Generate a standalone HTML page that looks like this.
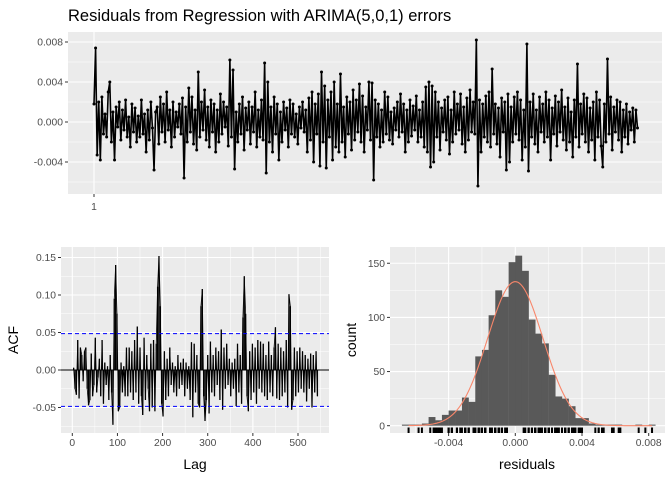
<!DOCTYPE html>
<html><head><meta charset="utf-8"><style>
body{margin:0;background:#fff;}
svg{display:block;font-family:"Liberation Sans",sans-serif;}
</style></head><body>
<svg id="c" width="672" height="480"></svg>
<script>
// residual series in units of 0.0001 (approx., reduced sampling)
const resid=[18,74,-33,20,-38,25,-12,8,-15,30,40,-20,10,-38,15,-5,20,-18,12,-8,22,-15,5,-25,18,-10,14,-20,6,-15,22,-12,8,-30,12,-18,20,-6,-48,10,15,-22,25,-10,18,-20,30,-8,12,-25,20,-15,10,-5,18,-12,24,-56,15,-20,34,-10,25,-22,12,-28,50,-15,20,-8,32,-18,15,-25,22,-10,18,-30,12,-20,28,-12,20,-5,15,-24,62,-15,52,-47,10,-20,18,-12,25,-28,14,-8,20,-22,15,-10,30,-25,12,-15,22,-18,59,-51,40,-20,15,-30,25,-12,18,-38,10,-20,20,-8,14,-25,22,-12,18,-15,8,-22,15,-6,20,-10,12,-30,24,-18,30,-40,18,-12,28,-44,50,-20,36,-46,22,-15,30,-38,40,-25,18,-30,48,-20,15,-35,25,-12,20,-28,32,-18,22,-10,38,-20,26,-30,15,-8,40,-18,39,-58,22,-15,18,-25,12,-20,30,-12,25,-18,10,-22,14,-8,20,-15,28,-10,18,-30,12,-20,22,-14,16,-8,26,-20,12,-15,20,-25,35,-30,40,-45,36,-40,30,-15,20,-28,14,-10,22,-18,25,-32,12,-20,30,-12,18,-8,28,-22,15,-30,24,-18,32,-10,20,-12,82,-64,22,-30,18,-15,26,-20,30,-25,53,-12,18,-22,14,-35,24,-10,20,-48,28,-40,15,-20,25,-12,30,-18,22,-38,12,-25,78,-49,20,-15,28,-22,12,-30,25,-10,18,-20,30,-15,22,-38,14,-12,26,-24,20,-10,32,-18,15,-28,24,-20,10,-35,22,-15,58,-25,18,-12,28,-20,24,-30,14,-18,20,-38,30,-15,22,-24,-45,18,-20,63,-12,25,-28,15,-10,22,-18,20,-30,12,-15,18,-22,10,-8,14,-20,12,-6];
// ACF values (x0.001) at lags 3,6,...,543
const acfVals=[3,-25,-33,40,-38,30,20,-15,25,30,-25,-47,-40,22,-35,-20,43,-30,-10,15,-35,40,-45,10,-20,5,-40,20,-30,-73,95,140,75,-55,-50,10,-30,5,-35,30,-35,30,-30,25,-40,40,-30,58,-45,30,-35,-60,43,-40,20,-25,-55,35,-50,40,-55,35,111,152,85,-45,-62,25,-40,15,-35,30,-20,10,-30,5,-35,20,-25,10,-20,15,-35,10,-25,5,-40,37,-63,35,-30,20,-45,-50,85,108,-35,-68,-40,20,-58,38,-30,20,-35,30,-20,25,-40,54,-53,30,-25,35,-20,15,-35,10,-25,15,-48,35,-30,20,-45,70,125,75,-35,-55,25,-40,35,-30,30,-45,40,-25,38,-30,35,-35,20,-40,38,-30,20,-35,30,57,-38,35,-40,30,-35,25,-30,40,-50,101,85,-53,-40,30,-35,25,-30,30,-25,25,-30,20,-42,15,-25,22,-50,20,-30,25,-35];
const acfStep=3, ciLimit=0.0485;
// histogram: bin starts (x0.0001) and counts
const binStart=[-68,-64,-60,-56,-52,-48,-44,-40,-36,-32,-28,-24,-20,-16,-12,-8,-4,0,4,8,12,16,20,24,28,32,36,40,44,48,52,56,60,64,68,72,76,80];
const binCount=[1,1,1,2,8,5,10,14,14,26,22,64,70,102,125,119,151,157,143,98,85,76,47,27,25,18,7,7,2,1,1,1,1,0,0,1,0,1];
const binWidth=4, fitMean=0, fitSd=0.00166, fitPeak=133;
const topTicks=[0.008,0.004,0,-0.004], acfTicks=[0.15,0.10,0.05,0.00,-0.05], lagTicks=[0,100,200,300,400,500];
const histYTicks=[0,50,100,150], histXTicks=[-0.004,0,0.004,0.008];

const S=document.getElementById('c'),NS='http://www.w3.org/2000/svg';
function el(t,a,p){const e=document.createElementNS(NS,t);for(const k in a)e.setAttribute(k,a[k]);(p||S).appendChild(e);return e;}
function txt(s,a,p){const e=el('text',a,p);e.textContent=s;return e;}
const G='#ebebeb',TC='#4d4d4d',FS='10.3',TS='14';

// title
const ti=txt('Residuals from Regression with ARIMA(5,0,1) errors',{x:68,y:21,'font-size':'16.5',fill:'#000'});


// ---- top panel
const tp=el('g',{});
const T={l:68,r:662,t:32,b:194};
const ty=v=>122-v*10000;
el('rect',{x:T.l,y:T.t,width:T.r-T.l,height:T.b-T.t,fill:G},tp);
[0.006,0.002,-0.002,-0.006].forEach(v=>el('line',{x1:T.l,x2:T.r,y1:ty(v),y2:ty(v),stroke:'#fff','stroke-width':0.5},tp));
topTicks.forEach(v=>{el('line',{x1:T.l,x2:T.r,y1:ty(v),y2:ty(v),stroke:'#fff','stroke-width':1.1},tp);
 el('line',{x1:T.l-3,x2:T.l,y1:ty(v),y2:ty(v),stroke:'#333'},tp);
 const t=txt(v===0?'0.000':v.toFixed(3),{x:T.l-5,y:ty(v)+3.6,'font-size':FS,fill:TC,'text-anchor':'end'},tp);
 });
el('line',{x1:94,x2:94,y1:T.t,y2:T.b,stroke:'#fff','stroke-width':1.1},tp);
el('line',{x1:94,x2:94,y1:T.b,y2:T.b+3,stroke:'#333'},tp);
const x1l=txt('1',{x:94,y:210,'font-size':FS,fill:TC,'text-anchor':'middle'},tp);

const tx=i=>94+i*(637.5-94)/(resid.length-1);
let d='';resid.forEach((v,i)=>{d+=(i?'L':'M')+tx(i).toFixed(2)+','+ty(v/10000).toFixed(2);});
const line=el('path',{d:d,fill:'none',stroke:'#000','stroke-width':1.6},tp);

resid.forEach((v,i)=>{const c=el('circle',{cx:tx(i),cy:ty(v/10000),r:1.5,fill:'#000'},tp);
 });

// ---- ACF panel
const ap=el('g',{});
const A={l:61,r:329,t:247,b:433};
const ax=l=>72.3+l*0.4514, ay=v=>370-v*750;
el('rect',{x:A.l,y:A.t,width:A.r-A.l,height:A.b-A.t,fill:G},ap);
[0.125,0.075,0.025,-0.025,-0.075].forEach(v=>el('line',{x1:A.l,x2:A.r,y1:ay(v),y2:ay(v),stroke:'#fff','stroke-width':0.5},ap));
[50,150,250,350,450,550].forEach(v=>el('line',{x1:ax(v),x2:ax(v),y1:A.t,y2:A.b,stroke:'#fff','stroke-width':0.5},ap));
acfTicks.forEach(v=>{el('line',{x1:A.l,x2:A.r,y1:ay(v),y2:ay(v),stroke:'#fff','stroke-width':1.1},ap);
 el('line',{x1:A.l-3,x2:A.l,y1:ay(v),y2:ay(v),stroke:'#333'},ap);
 const t=txt(v.toFixed(2),{x:A.l-5,y:ay(v)+3.6,'font-size':FS,fill:TC,'text-anchor':'end'},ap);
 });
lagTicks.forEach(v=>{el('line',{x1:ax(v),x2:ax(v),y1:A.t,y2:A.b,stroke:'#fff','stroke-width':1.1},ap);
 el('line',{x1:ax(v),x2:ax(v),y1:A.b,y2:A.b+3,stroke:'#333'},ap);
 const t=txt(String(v),{x:ax(v),y:A.b+13,'font-size':FS,fill:TC,'text-anchor':'middle'},ap);
 });
el('line',{x1:A.l,x2:A.r,y1:ay(0),y2:ay(0),stroke:'#000','stroke-width':1},ap);
let ad='';acfVals.forEach((v,i)=>{const l=(i+1)*acfStep;ad+=(i?'L':'M')+ax(l).toFixed(2)+','+ay(v/1000).toFixed(2);});
el('path',{d:ad,fill:'none',stroke:'#000','stroke-width':0.8},ap);
acfVals.forEach((v,i)=>{const l=(i+1)*acfStep;const s=el('line',{x1:ax(l),x2:ax(l),y1:ay(0),y2:ay(v/1000),stroke:'#000','stroke-width':1.3},ap);
 });
[ciLimit,-ciLimit].forEach(v=>{const c=el('line',{x1:A.l,x2:A.r,y1:ay(v),y2:ay(v),stroke:'#0000ff','stroke-width':1,'stroke-dasharray':'4,3'},ap);
 });
const lt=txt('Lag',{x:195,y:469,'font-size':TS,'text-anchor':'middle'},ap);
const at=txt('ACF',{x:0,y:0,'font-size':TS,'text-anchor':'middle',transform:'translate(18,340) rotate(-90)'},ap);

// ---- histogram
const hp=el('g',{});
const H={l:390,r:665,t:247,b:433};
const hx=v=>515.3+v*16675, hy=c=>425.7-c*1.083;
el('rect',{x:H.l,y:H.t,width:H.r-H.l,height:H.b-H.t,fill:G},hp);
[25,75,125].forEach(v=>el('line',{x1:H.l,x2:H.r,y1:hy(v),y2:hy(v),stroke:'#fff','stroke-width':0.5},hp));
[-0.006,-0.002,0.002,0.006].forEach(v=>el('line',{x1:hx(v),x2:hx(v),y1:H.t,y2:H.b,stroke:'#fff','stroke-width':0.5},hp));
histYTicks.forEach(v=>{el('line',{x1:H.l,x2:H.r,y1:hy(v),y2:hy(v),stroke:'#fff','stroke-width':1.1},hp);
 el('line',{x1:H.l-3,x2:H.l,y1:hy(v),y2:hy(v),stroke:'#333'},hp);
 const t=txt(String(v),{x:H.l-5,y:hy(v)+3.6,'font-size':FS,fill:TC,'text-anchor':'end'},hp);
 });
histXTicks.forEach(v=>{el('line',{x1:hx(v),x2:hx(v),y1:H.t,y2:H.b,stroke:'#fff','stroke-width':1.1},hp);
 el('line',{x1:hx(v),x2:hx(v),y1:H.b,y2:H.b+3,stroke:'#333'},hp);
 const t=txt(v===0?'0.000':v.toFixed(3),{x:hx(v),y:H.b+13,'font-size':FS,fill:TC,'text-anchor':'middle'},hp);
 });
binStart.forEach((b,i)=>{const x0=hx(b/10000),x1=hx((b+binWidth)/10000);
 const r=el('rect',{x:x0,y:hy(binCount[i]),width:x1-x0+0.2,height:hy(0)-hy(binCount[i]),fill:'#595959'},hp);
 });
let cd='';for(let k=0;k<=200;k++){const v=-0.0064+k*(0.0146/200);const c=fitPeak*Math.exp(-0.5*Math.pow((v-fitMean)/fitSd,2));cd+=(k?'L':'M')+hx(v).toFixed(2)+','+hy(c).toFixed(2);}
const cv=el('path',{d:cd,fill:'none',stroke:'#f8866a','stroke-width':1.1},hp);
resid.forEach(v=>{const r=el('line',{x1:hx(v/10000),x2:hx(v/10000),y1:427.5,y2:433,stroke:'#000','stroke-width':2},hp);
 });
const rt=txt('residuals',{x:527,y:469,'font-size':TS,'text-anchor':'middle'},hp);
const ct=txt('count',{x:0,y:0,'font-size':TS,'text-anchor':'middle',transform:'translate(356,340) rotate(-90)'},hp);
</script>
</body></html>
